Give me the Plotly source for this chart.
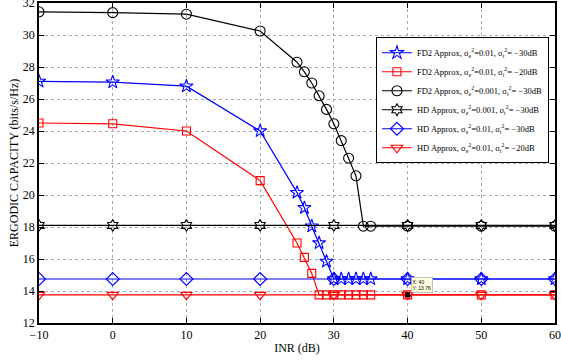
import plotly.graph_objects as go

# x values
x_fd2 = [-10, 0, 10, 20, 25, 26, 27, 28, 29, 30, 31, 32, 33, 34, 35, 40, 50, 60]
x_hd = [-10, 0, 10, 20, 30, 40, 50, 60]

# FD2 Approx, se2=0.01, st2=-30dB
fd2_a = [27.1, 27.05, 26.8, 24.0, 20.15, 19.2, 18.05, 17.0, 15.85, 14.75, 14.75, 14.75, 14.75, 14.75, 14.75, 14.75, 14.75, 14.75]
# FD2 Approx, se2=0.01, st2=-20dB
fd2_b = [24.5, 24.45, 24.0, 20.9, 17.0, 16.1, 15.1, 13.76, 13.76, 13.76, 13.76, 13.76, 13.76, 13.76, 13.76, 13.76, 13.76, 13.76]
# FD2 Approx, se2=0.001, st2=-30dB
fd2_c = [31.45, 31.4, 31.3, 30.25, 28.3, 27.7, 27.0, 26.2, 25.35, 24.45, 23.4, 22.3, 21.2, 18.05, 18.05, 18.05, 18.05, 18.05]
# HD curves
hd_a = [18.1] * 8
hd_b = [14.75] * 8
hd_c = [13.76] * 8

labels = [
    "FD2 Approx, σ<sub>e</sub><sup>2</sup>=0.01, σ<sub>t</sub><sup>2</sup>= −30dB",
    "FD2 Approx, σ<sub>e</sub><sup>2</sup>=0.01, σ<sub>t</sub><sup>2</sup>= −20dB",
    "FD2 Approx, σ<sub>e</sub><sup>2</sup>=0.001, σ<sub>t</sub><sup>2</sup>= −30dB",
    "HD Approx, σ<sub>e</sub><sup>2</sup>=0.001, σ<sub>t</sub><sup>2</sup>= −30dB",
    "HD Approx, σ<sub>e</sub><sup>2</sup>=0.01, σ<sub>t</sub><sup>2</sup>= −30dB",
    "HD Approx, σ<sub>e</sub><sup>2</sup>=0.01, σ<sub>t</sub><sup>2</sup>= −20dB",
]

x_ticks = [-10, 0, 10, 20, 30, 40, 50, 60]
x_ticklabels = ["−10", "0", "10", "20", "30", "40", "50", "60"]
y_ticks = list(range(12, 33, 2))

FONT = "Liberation Serif"
fig = go.Figure()

def add(x, y, name, color, symbol, size):
    fig.add_trace(go.Scatter(
        x=x, y=y, name=name, mode="lines+markers",
        line=dict(color=color, width=1.2),
        marker=dict(symbol=symbol, size=size, color="rgba(0,0,0,0)",
                    line=dict(color=color, width=1.1)),
    ))

add(x_fd2, fd2_a, labels[0], "#0000ff", "star", 10)
add(x_fd2, fd2_b, labels[1], "#ff0000", "square", 8)
add(x_fd2, fd2_c, labels[2], "#000000", "circle", 10)
add(x_hd, hd_a, labels[3], "#000000", "hexagram", 9)
add(x_hd, hd_b, labels[4], "#0000ff", "diamond", 10)
add(x_hd, hd_c, labels[5], "#ff0000", "triangle-down", 10)

# data tip
fig.add_trace(go.Scatter(x=[40], y=[13.76], mode="markers", showlegend=False,
                         marker=dict(symbol="square", size=5, color="black")))
fig.add_annotation(x=40, y=13.76, xref="x", yref="y", text="X: 40<br>Y: 13.76",
                   showarrow=False, xanchor="left", yanchor="bottom", xshift=3, yshift=2,
                   align="left", font=dict(size=5, family="Liberation Sans", color="black"),
                   bgcolor="#ffffe0", bordercolor="#888888", borderwidth=0.5, borderpad=1)

axis_common = dict(
    showline=True, linecolor="black", linewidth=1.5, mirror="ticks",
    ticks="inside", ticklen=5, tickcolor="black", tickwidth=1,
    showgrid=True, gridcolor="#aaaaaa", griddash="dot", gridwidth=1,
    zeroline=False, tickfont=dict(family=FONT, size=12, color="black"),
    ticklabeloverflow="allow", automargin=False,
)

fig.update_layout(
    width=561, height=360,
    margin=dict(l=39, r=6, t=3, b=37),
    paper_bgcolor="white", plot_bgcolor="white",
    font=dict(family=FONT, color="black"),
    xaxis=dict(range=[-10, 60], tickvals=x_ticks, ticktext=x_ticklabels,
               title=dict(text="INR (dB)", font=dict(family=FONT, size=12), standoff=2),
               **axis_common),
    yaxis=dict(range=[12, 32], tickvals=y_ticks,
               title=dict(text="ERGODIC CAPACITY (bits/s/Hz)", font=dict(family=FONT, size=12), standoff=2),
               **axis_common),
    legend=dict(x=0.653, y=0.893, xanchor="left", yanchor="top",
                bgcolor="white", bordercolor="black", borderwidth=1,
                font=dict(family=FONT, size=8.5, color="black"),
                tracegroupgap=0, itemwidth=30),
    showlegend=True,
)

fig.write_html("out.html")
